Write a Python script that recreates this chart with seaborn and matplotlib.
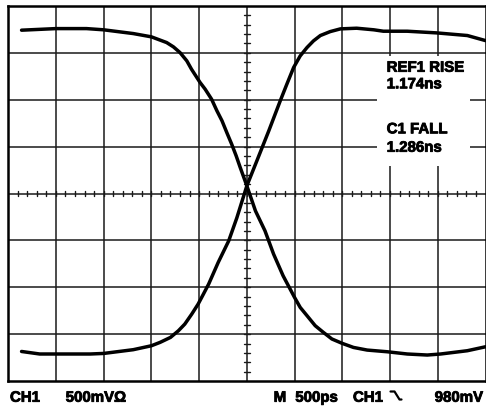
import numpy as np
import pandas as pd
import matplotlib
matplotlib.use("Agg")
import matplotlib.pyplot as plt
import matplotlib.patheffects as pe
import seaborn as sns
from matplotlib.patches import Rectangle
from matplotlib.lines import Line2D

# ---- data (time in ns, voltage in V; 500 ps/div, 500 mV/div) ----
fall_t = [-2.36, -2.00, -1.68, -1.50, -1.19, -1.00, -0.84, -0.769, -0.70, -0.629,
          -0.58, -0.49, -0.437, -0.37, -0.314, -0.26, -0.21, -0.16, -0.112, -0.07,
          0.00, 0.09, 0.19, 0.28, 0.38, 0.50, 0.559, 0.63, 0.716, 0.80,
          0.891, 1.00, 1.117, 1.26, 1.47, 1.68, 1.89, 2.03, 2.31, 2.50]
fall_v = [1.742, 1.759, 1.759, 1.746, 1.706, 1.671, 1.610, 1.564, 1.503, 1.415,
          1.326, 1.184, 1.113, 1.007, 0.883, 0.775, 0.650, 0.529, 0.402, 0.279,
          0.082, -0.185, -0.398, -0.646, -0.878, -1.109, -1.215, -1.303, -1.410, -1.480,
          -1.552, -1.599, -1.642, -1.670, -1.688, -1.712, -1.723, -1.712, -1.677, -1.635]
rise_t = [-2.36, -2.17, -1.64, -1.50, -1.19, -1.00, -0.909, -0.80, -0.717, -0.65,
          -0.577, -0.51, -0.455, -0.40, -0.30, -0.19, -0.105, 0.00, 0.105, 0.23,
          0.35, 0.419, 0.49, 0.559, 0.63, 0.698, 0.77, 0.873, 0.98, 1.15,
          1.33, 1.43, 1.68, 1.99, 2.31, 2.50]
rise_v = [-1.685, -1.712, -1.712, -1.706, -1.666, -1.624, -1.588, -1.535, -1.464, -1.393,
          -1.286, -1.179, -1.073, -0.966, -0.735, -0.505, -0.26, 0.082, 0.349, 0.669,
          0.989, 1.166, 1.344, 1.468, 1.557, 1.628, 1.685, 1.727, 1.756, 1.763,
          1.746, 1.731, 1.731, 1.713, 1.685, 1.631]

label_ref = ["REF1 RISE", "1.174ns"]
label_c1 = ["C1 FALL", "1.286ns"]
bottom_left = ["CH1", "500mV\u03a9"]
bottom_right = ["M", "500ps", "CH1", "980mV"]

sns.set_style("white")
plt.rcParams['font.family'] = ['Liberation Sans', 'DejaVu Sans']

fig = plt.figure(figsize=(4.86, 4.08), dpi=100)
ax = fig.add_axes([8.2 / 486, 1 - 381 / 408, (485.5 - 8.2) / 486, (381 - 6) / 408])
ax.set_xlim(-2.5, 2.5)
ax.set_ylim(-2.0, 2.0)

# graticule
for gx in np.arange(-2.0, 2.01, 0.5):
    ax.axvline(gx, color='#1a1a1a', lw=1.1, zorder=1)
for gy in np.arange(-1.5, 1.51, 0.5):
    ax.axhline(gy, color='#1a1a1a', lw=1.1, zorder=1)
# minor ticks on centre axes
for tx in np.arange(-2.4, 2.41, 0.1):
    ax.plot([tx, tx], [-0.03, 0.03], color='#1a1a1a', lw=1.0, zorder=1)
for ty in np.arange(-1.9, 1.91, 0.1):
    ax.plot([-0.031, 0.031], [ty, ty], color='#1a1a1a', lw=1.0, zorder=1)

# white label box
ax.add_patch(Rectangle((1.366, 0.295), 2.341 - 1.366, 1.470 - 0.295,
                       facecolor='white', edgecolor='none', zorder=2))

df_fall = pd.DataFrame({"t": fall_t, "v": fall_v})
df_rise = pd.DataFrame({"t": rise_t, "v": rise_v})
sns.lineplot(data=df_fall, x="t", y="v", sort=False, ax=ax, color='black',
             lw=2.5, zorder=3, solid_joinstyle='round', solid_capstyle='round')
sns.lineplot(data=df_rise, x="t", y="v", sort=False, ax=ax, color='black',
             lw=2.5, zorder=3, solid_joinstyle='round', solid_capstyle='round')

ax.set_xticks([])
ax.set_yticks([])
ax.set_xlabel("")
ax.set_ylabel("")
for s in ax.spines.values():
    s.set_visible(True)
    s.set_color('black')
    s.set_linewidth(1.8)

fs = 10.8
thick = [pe.withStroke(linewidth=0.6, foreground='black')]
kw = dict(fontsize=fs, fontweight='bold', va='baseline', ha='left', color='black',
          path_effects=thick)
fig.text(386.7 / 486, 1 - 71.7 / 408, label_ref[0], **kw)
fig.text(386.7 / 486, 1 - 88.3 / 408, label_ref[1], **kw)
fig.text(386.7 / 486, 1 - 133.3 / 408, label_c1[0], **kw)
fig.text(386.7 / 486, 1 - 151.7 / 408, label_c1[1], **kw)

yb = 1 - 401.7 / 408
fig.text(10 / 486, yb, bottom_left[0], **kw)
fig.text(65.7 / 486, yb, bottom_left[1], **kw)
fig.text(273.7 / 486, yb, bottom_right[0], **kw)
fig.text(295.3 / 486, yb, bottom_right[1], **kw)
fig.text(353 / 486, yb, bottom_right[2], **kw)
fig.text(434.7 / 486, yb, bottom_right[3], **kw)

# falling-edge trigger icon
px = np.array([390.5, 394.5, 399.5, 401.5])
py = np.array([391.5, 391.5, 399.5, 399.5])
fig.add_artist(Line2D(px / 486, 1 - py / 408, color='black', lw=1.6,
                      transform=fig.transFigure))

fig.savefig("out.png", dpi=100)
